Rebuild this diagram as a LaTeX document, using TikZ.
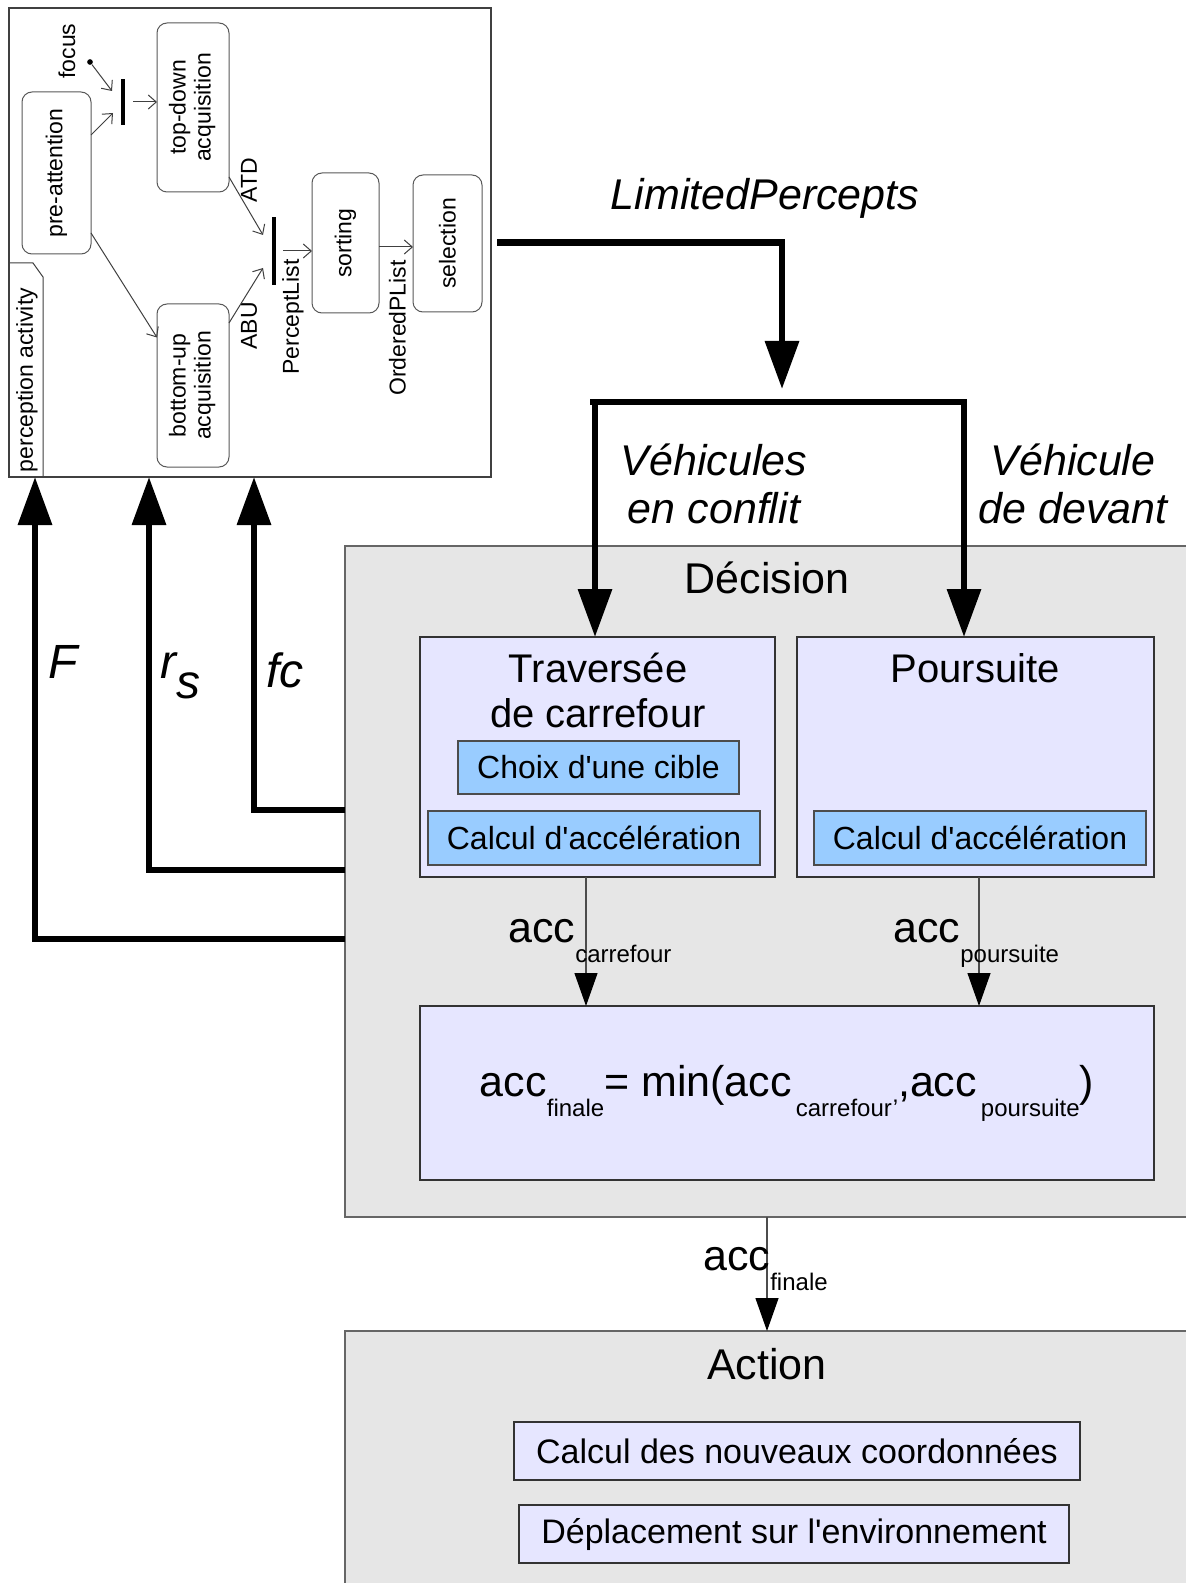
\documentclass[tikz,border=0pt]{standalone}
\usepackage{fontspec}
\setmainfont{Liberation Sans}[Ligatures=TeXOff]
\usetikzlibrary{arrows.meta}

\definecolor{lavender}{HTML}{E6E6FF}
\definecolor{skyblue}{HTML}{99CCFF}
\definecolor{panelgray}{HTML}{E6E6E6}

\newcommand{\txtbig}{\fontsize{21.5}{24}\selectfont}
\newcommand{\txtlab}{\fontsize{24}{28}\selectfont}
\newcommand{\txttitle}{\fontsize{20}{22.5}\selectfont}
\newcommand{\txtbox}{\fontsize{16}{19}\selectfont}
\newcommand{\txtact}{\fontsize{17}{20}\selectfont}
\newcommand{\txtsub}{\fontsize{12}{14}\selectfont}
\newcommand{\txtsmall}{\fontsize{11.5}{12.5}\selectfont}
\newcommand{\lowsub}[1]{\raisebox{-10pt}{\txtsub #1}}

\tikzset{
  panel/.style={draw=black!60, fill=panelgray, line width=0.6pt, inner sep=0pt, outer sep=0pt},
  module/.style={draw=black!80, fill=lavender, line width=0.6pt, inner sep=0pt, outer sep=0pt},
  task/.style={draw=black!70, fill=skyblue, line width=0.6pt, inner sep=0pt, outer sep=0pt, font=\txtbox},
  percframe/.style={draw=black!75, fill=white, line width=0.6pt, inner sep=0pt, outer sep=0pt},
  activity/.style={draw=black!65, rounded corners=5pt, line width=0.5pt, inner sep=0pt, outer sep=0pt, font=\txtsmall},
  syncbar/.style={fill=black, inner sep=0pt, outer sep=0pt, minimum width=2pt},
  vlabel/.style={rotate=90, inner sep=0pt, font=\txtsmall},
  flow/.style={draw=black!75, line width=0.5pt, -{Straight Barb[length=4pt,width=7pt]}},
  bigflow/.style={line width=3.2pt, -{Triangle[length=24pt,width=16.5pt]}},
  accflow/.style={draw=black!70, line width=0.6pt, -{Triangle[length=16.5pt,width=11.5pt,color=black]}},
}

\begin{document}
\begin{tikzpicture}[x=0.5pt,y=-0.5pt]
	\useasboundingbox (0,0) rectangle (1186,1583);

	% perception activity
	\node[percframe, minimum width=241pt, minimum height=234.5pt] (percept) at (250,242.5) {};
	\draw[draw=black!75, line width=0.5pt] (9,263) -- (33,263) -- (43,277) -- (43,477);
	\node[vlabel] (tabname) at (27,380) {perception activity};

		\node[activity, minimum width=34.5pt, minimum height=81pt] (preatt) at (56.5,173) {\rotatebox{90}{pre-attention}};
		\node[activity, minimum width=36pt, minimum height=84.5pt] (topdown) at (193,107.5) {\rotatebox{90}{\begin{tabular}{@{}c@{}}top-down\\acquisition\end{tabular}}};
		\node[activity, minimum width=36pt, minimum height=81.5pt] (bottomup) at (193,385.5) {\rotatebox{90}{\begin{tabular}{@{}c@{}}bottom-up\\acquisition\end{tabular}}};
		\node[activity, minimum width=33.5pt, minimum height=70pt] (sorting) at (345.5,243) {\rotatebox{90}{sorting}};
		\node[activity, minimum width=34.5pt, minimum height=68.5pt] (selection) at (447.5,243.5) {\rotatebox{90}{selection}};

		\node[syncbar, minimum height=23pt] (bar1) at (123,102) {};
		\node[syncbar, minimum height=34pt] (bar2) at (274,251) {};
		\node[circle, fill=black, inner sep=1pt] (focusdot) at (90,62) {};

		\node[vlabel] (focuslab) at (67,51) {focus};
		\node[vlabel] (atdlab) at (249,180) {ATD};
		\node[vlabel] (abulab) at (249,326) {ABU};
		\node[vlabel] (plistlab) at (293,317) {PerceptList};
		\node[vlabel] (oplistlab) at (397.5,328) {OrderedPList};

		\draw[flow] (focusdot) -- ([xshift=-4.5pt,yshift=5.5pt]bar1.west);
		\draw[flow] ([yshift=19pt]preatt.east) -- ([xshift=-4pt,yshift=-5.5pt]bar1.west);
		\draw[flow] ([xshift=4pt]bar1.east) -- (topdown.west |- bar1.east);
		\draw[flow] ([yshift=-30pt]preatt.east) -- ([yshift=24pt]bottomup.west);
		\draw[flow] ([yshift=7.5pt]topdown.south east) -- ([xshift=-4.5pt,yshift=8pt]bar2.west);
		\draw[flow] ([yshift=-9.5pt]bottomup.north east) -- ([xshift=-4.5pt,yshift=-8.5pt]bar2.west);
		\draw[flow] ([xshift=3.5pt]bar2.east) -- (sorting.west |- bar2.east);
		\draw[flow] ([yshift=-2pt]sorting.east) -- ([yshift=-1.75pt]selection.west);

	% decision
	\node[panel, minimum width=424.5pt, minimum height=335.5pt] (dec) at (769.5,881.5) {};
	\node[font=\txtbig] (dectitle) at (767,578) {Décision};

		\node[module, minimum width=177.5pt, minimum height=120pt] (trav) at (597.5,757) {};
		\node[font=\txttitle, align=center] (travtitle) at (598,690) {Traversée\\de carrefour};
		\node[task, minimum width=140.5pt, minimum height=26.5pt] (choix) at (598.5,767.5) {Choix d'une cible};
		\node[task, minimum width=166pt, minimum height=27pt] (calcL) at (594,838) {Calcul d'accélération};

		\node[module, minimum width=178.5pt, minimum height=120pt] (pours) at (975.5,757) {};
		\node[font=\txttitle] (pourstitle) at (975,668) {Poursuite};
		\node[task, minimum width=166pt, minimum height=27pt] (calcR) at (980,838) {Calcul d'accélération};

		\node[module, minimum width=367pt, minimum height=87pt, font=\txtbig] (formula) at (787,1093)
			{acc\lowsub{finale}= min(acc\hspace{2pt}\lowsub{carrefour’},acc\hspace{2pt}\lowsub{poursuite})};

		\coordinate (accL) at ([xshift=-5.75pt]trav.south);
		\coordinate (accR) at ([xshift=1.75pt]pours.south);
		\draw[accflow] (accL) -- (accL |- formula.north);
		\draw[accflow] (accR) -- (accR |- formula.north);
		\node[font=\txtbig, anchor=base west, inner sep=0pt] (acccarr) at (508,942) {acc\lowsub{carrefour}};
		\node[font=\txtbig, anchor=base west, inner sep=0pt] (accpours) at (893,942) {acc\lowsub{poursuite}};

	% action
	\node[panel, minimum width=424.5pt, minimum height=129.5pt] (action) at (769.5,1460.5) {};
	\node[font=\txtbig] (actiontitle) at (767,1364) {Action};
		\node[module, minimum width=283pt, minimum height=29pt, font=\txtact] (coords) at (797,1451) {Calcul des nouveaux coordonnées};
		\node[module, minimum width=275pt, minimum height=29pt, font=\txtact] (depl) at (794,1534) {Déplacement sur l'environnement};

	\coordinate (accfin) at ([xshift=-1.25pt]dec.south);
	\draw[accflow] (accfin) -- (accfin |- action.north);
	\node[font=\txtbig, anchor=base west, inner sep=0pt] (accfinlab) at (703,1270) {acc\lowsub{finale}};

	% percepts to decision
	\coordinate (splitL) at (590,402);
	\coordinate (splitR) at (967,402);
	\coordinate (splitmid) at (782,402);
	\coordinate (brL) at (595,402);
	\coordinate (brR) at (964,402);
	\draw[bigflow] ([xshift=3pt]percept.east) -| ([yshift=6.5pt]splitmid);
	\draw[line width=3.2pt] (splitL) -- (splitR);
	\draw[bigflow] (brL) -- (brL |- trav.north);
	\draw[bigflow] (brR) -- (brR |- pours.north);
	\node[font=\txtbig\itshape] (lplab) at (765,198) {LimitedPercepts};
	\node[font=\txtbig\itshape, align=center] (conflab) at (714,484) {Véhicules\\en conflit};
	\node[font=\txtbig\itshape, align=center] (devlab) at (1073,484) {Véhicule\\de devant};

	% feedback to perception
	\coordinate (fcrow) at (254,810);
	\coordinate (rsrow) at (149,870);
	\coordinate (Frow) at (35,939);
	\draw[bigflow] (fcrow -| dec.west) -| (fcrow |- percept.south);
	\draw[bigflow] (rsrow -| dec.west) -| (rsrow |- percept.south);
	\draw[bigflow] (Frow -| dec.west) -| (Frow |- percept.south);
	\node[font=\txtlab\itshape, anchor=base west, inner sep=0pt] (Flab) at (48,678) {F};
	\node[font=\txtlab\itshape, anchor=base west, inner sep=0pt] (rslab) at (160,678) {r\raisebox{-10pt}{s}};
	\node[font=\txtlab\itshape, anchor=base west, inner sep=0pt] (fclab) at (266,687) {fc};
\end{tikzpicture}
\end{document}
